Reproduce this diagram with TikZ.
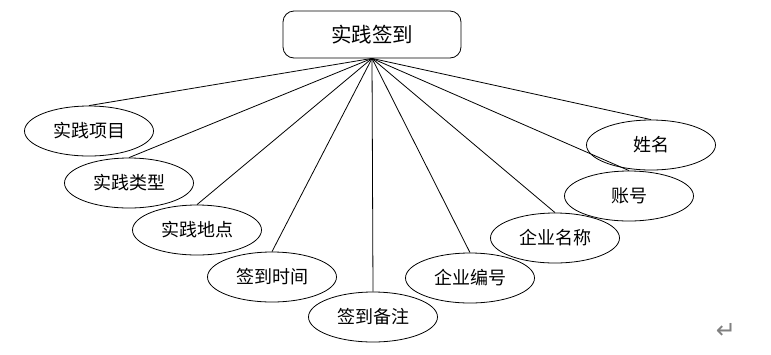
\documentclass[tikz,border=0pt]{standalone}
\usepackage{fontspec}
\newfontfamily\cjk{Noto Sans CJK SC}
\newfontfamily\symfont{DejaVu Sans}
\usetikzlibrary{shapes.geometric}
\begin{document}
\begin{tikzpicture}[x=1pt, y=-1pt, line width=0.8pt,
	entity/.style={draw, rounded corners=11pt, minimum width=178pt, minimum height=47pt, inner sep=0pt, font=\cjk\fontsize{20.5}{20.5}\selectfont},
	attr/.style={draw, ellipse, minimum width=129pt, minimum height=50pt, inner sep=0pt, font=\cjk\fontsize{18}{18}\selectfont}]
	\useasboundingbox (0,0) rectangle (771,354);
	
	% 实体
	\node[entity] (qd) at (372, 34.5) {实践签到};
	
	% 属性
	\node[attr] (xmmc) at (89, 131) {实践项目};
	\node[attr] (sjlx) at (129, 183) {实践类型};
	\node[attr] (sjdd) at (197, 230) {实践地点};
	\node[attr] (qdsj) at (272, 277) {签到时间};
	\node[attr] (qdbz) at (373, 317) {签到备注};
	\node[attr] (qybh) at (470, 278) {企业编号};
	\node[attr] (qymc) at (555, 238) {企业名称};
	\node[attr] (zh)   at (629, 196) {账号};
	\node[attr] (xm)   at (651, 145) {姓名};
	
	% 连线
	\foreach \a in {xmmc, sjlx, sjdd, qdsj, qdbz, qybh, qymc, zh, xm}
		\draw (qd.south) -- (\a.north);
	
	% 段落标记
	\node[text=gray, font=\symfont\fontsize{24}{24}\selectfont] (mark) at (726, 331) {↵};
\end{tikzpicture}
\end{document}
